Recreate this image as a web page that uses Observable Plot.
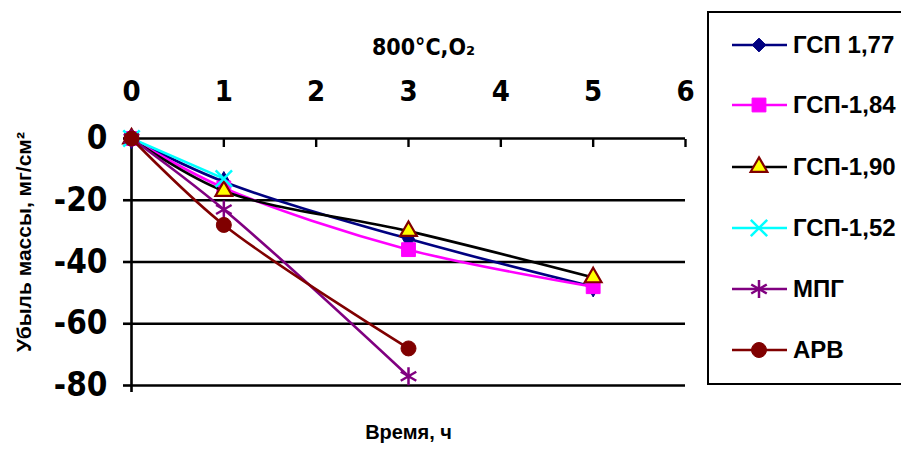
<!DOCTYPE html>
<html><head><meta charset="utf-8">
<script src="https://cdn.jsdelivr.net/npm/d3@7"></script>
<script src="https://cdn.jsdelivr.net/npm/@observablehq/plot@0.6"></script>
<style>
body{margin:0;background:#fff;}
#wrap{position:relative;width:901px;height:450px;overflow:hidden;}
#legend{position:absolute;left:707px;top:11px;width:220px;height:374px;border:2.5px solid #000;box-sizing:border-box;background:#fff;}
.row{position:absolute;left:22px;height:30px;display:flex;align-items:center;font:bold 24px "Liberation Sans",Arial,sans-serif;color:#000;white-space:nowrap;}
.row svg{margin-right:6px;}
</style></head>
<body><div id="wrap"><div id="chart"></div><div id="legend"></div></div>
<script>
// ---- data ----
const seriesNames = ["ГСП 1,77", "ГСП-1,84", "ГСП-1,90", "ГСП-1,52", "МПГ", "АРВ"];
const hours177 = [0, 1, 3, 5];   const loss177 = [0, -14, -32.5, -48];
const hours184 = [0, 1, 3, 5];   const loss184 = [0, -16, -36, -48];
const hours190 = [0, 1, 3, 5];   const loss190 = [0, -17, -30, -45];
const hours152 = [0, 1];         const loss152 = [0, -13];
const hoursMPG = [0, 1, 3];      const lossMPG = [0, -23, -77];
const hoursARV = [0, 1, 3];      const lossARV = [0, -28, -68];
const xTicks = [0, 1, 2, 3, 4, 5, 6];
const yTicks = [0, -20, -40, -60, -80];
const xLabel = "Время, ч";
const yLabel = "Убыль массы, мг/см²";
const topLabel = "800°C,O₂";

// ---- styles ----
const styles = [
  {line: "#000080", symbol: "diamond", fill: "#000080", stroke: "#000080", r: 6.2, sw: 1},
  {line: "#FF00FF", symbol: "square", fill: "#FF00FF", stroke: "#FF00FF", r: 7.8, sw: 1},
  {line: "#000000", symbol: "triangle", fill: "#FFFF00", stroke: "#800000", r: 6.2, sw: 2.2},
  {line: "#00FFFF", symbol: "times", fill: "none", stroke: "#00FFFF", r: 7.5, sw: 2.5},
  {line: "#800080", symbol: "asterisk", fill: "none", stroke: "#800080", r: 8.5, sw: 2.5},
  {line: "#800000", symbol: "circle", fill: "#800000", stroke: "#800000", r: 7.5, sw: 1}
];
const xs = [hours177, hours184, hours190, hours152, hoursMPG, hoursARV];
const ys = [loss177, loss184, loss190, loss152, lossMPG, lossARV];
const data = seriesNames.map((name, i) => xs[i].map((x, j) => ({name, x, y: ys[i][j]})));

const font = '"Liberation Sans", Arial, sans-serif';
const narrow = '"Liberation Sans Narrow", "Arial Narrow", "DejaVu Sans Condensed", sans-serif';

const seriesMarks = data.flatMap((d, i) => {
  const s = styles[i];
  return [
    Plot.line(d, {x: "x", y: "y", stroke: s.line, strokeWidth: 2.6, curve: "catmull-rom"}),
    Plot.dot(d, {x: "x", y: "y", symbol: () => s.symbol, r: s.r, fill: s.fill, stroke: s.stroke, strokeWidth: s.sw})
  ];
});

const chart = Plot.plot({
  width: 901, height: 450,
  marginLeft: 131, marginRight: 216, marginTop: 138, marginBottom: 65,
  style: {background: "transparent", overflow: "visible"},
  x: {domain: [0, 6]},
  y: {domain: [-80, 0]},
  marks: [
    Plot.gridY(yTicks, {stroke: "#000", strokeOpacity: 1, strokeWidth: 2.6}),
    Plot.ruleX([0], {stroke: "#000", strokeWidth: 2.6, insetBottom: -7}),
    Plot.axisX(xTicks, {anchor: "top", tickSize: -8, strokeWidth: 2.4, tickFormat: () => "", label: null}),
    Plot.axisX(xTicks, {anchor: "top", tickSize: 0, tickPadding: 38, fontSize: 29, fontWeight: "bold", fontFamily: narrow, label: null, fill: "#000", tickFormat: d => String(d)}),
    Plot.axisY(yTicks, {anchor: "left", tickSize: 8, strokeWidth: 2.6, tickPadding: 16, fontSize: 33, fontWeight: "bold", fontFamily: narrow, label: null, fill: "#000", tickFormat: d => String(d)}),
    ...seriesMarks,
    Plot.text([xLabel], {frameAnchor: "bottom", dy: 53, fontSize: 20, fontWeight: "bold", fontFamily: font, fill: "#000"}),
    Plot.text([topLabel], {frameAnchor: "top", textAnchor: "middle", dx: 15, dy: -100, fontSize: 23, fontWeight: "bold", fontFamily: narrow, fill: "#000"}),
    Plot.text([yLabel], {frameAnchor: "left", textAnchor: "middle", rotate: -90, dx: -107, dy: -20, fontSize: 21, fontWeight: "bold", fontFamily: font, fill: "#000"})
  ]
});
document.getElementById("chart").appendChild(chart);

// ---- legend ----
const legend = document.getElementById("legend");
const rowY = [32, 92, 154, 215, 276, 337];
const types = {diamond: d3.symbolDiamond2, square: d3.symbolSquare, triangle: d3.symbolTriangle, times: d3.symbolTimes, asterisk: d3.symbolAsterisk, circle: d3.symbolCircle};
seriesNames.forEach((name, i) => {
  const s = styles[i];
  const row = document.createElement("div");
  row.className = "row";
  row.style.top = (rowY[i] - 15) + "px";
  const svg = d3.create("svg").attr("width", 56).attr("height", 30);
  svg.append("line").attr("x1", 1).attr("x2", 56).attr("y1", 15).attr("y2", 15).attr("stroke", s.line).attr("stroke-width", 2.6);
  svg.append("path").attr("transform", "translate(28,15)")
    .attr("d", d3.symbol(types[s.symbol], s.r * s.r * Math.PI)())
    .attr("fill", s.fill).attr("stroke", s.stroke).attr("stroke-width", s.sw);
  row.appendChild(svg.node());
  const t = document.createElement("span");
  t.textContent = name;
  row.appendChild(t);
  legend.appendChild(row);
});
</script>
</body></html>
